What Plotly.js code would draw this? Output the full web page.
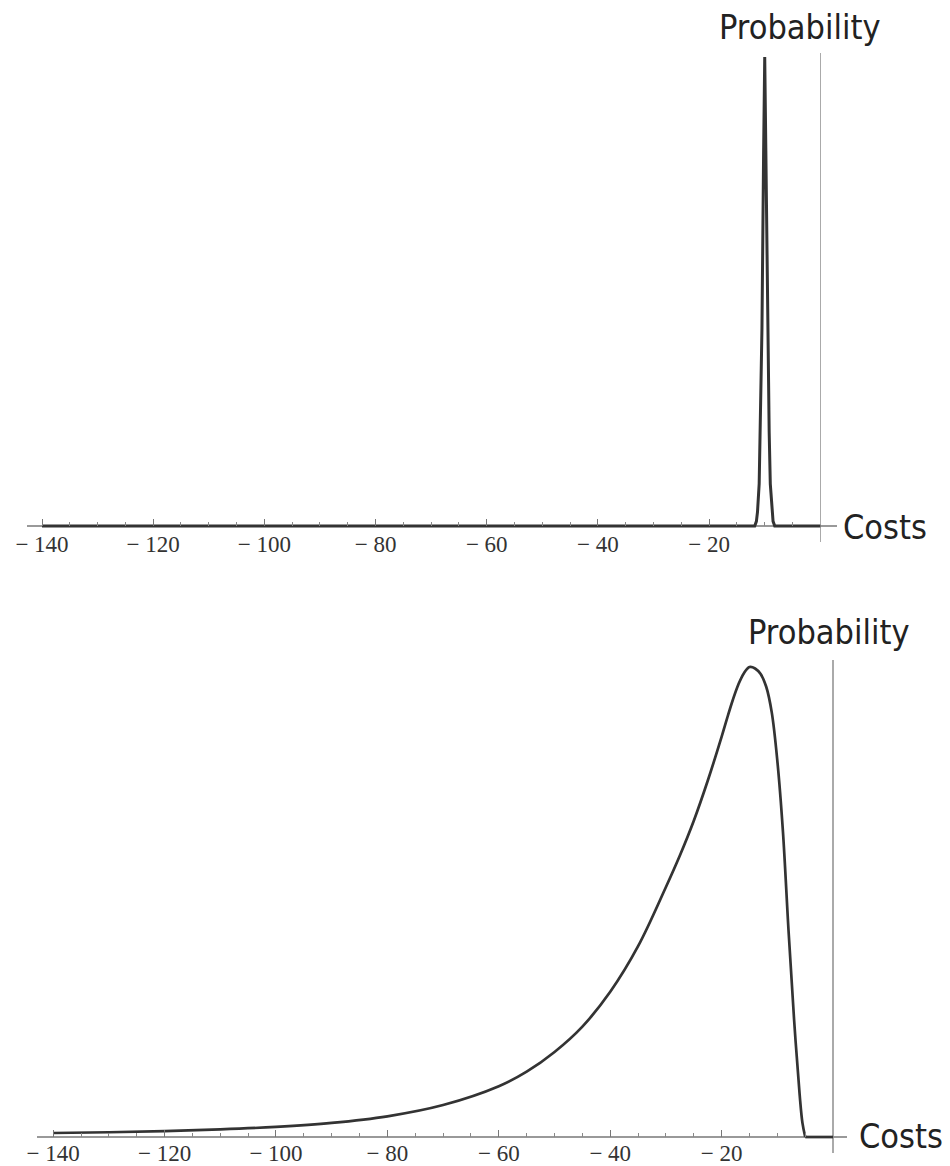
<!DOCTYPE html>
<html>
<head>
<meta charset="utf-8">
<script src="https://cdn.plot.ly/plotly-3.0.1.min.js"></script>
<style>
  html, body { margin: 0; padding: 0; background: #fff; }
  #chart { width: 950px; height: 1166px; }
</style>
</head>
<body>
<div id="chart"></div>
<script>
// ---- Data ----
// Top panel: very narrow distribution around -10
const topCosts = [-140, -11.8, -11.5, -11.3, -11, -10.8, -10.5, -10.2, -10, -9.8, -9.5, -9.2, -9, -8.7, -8.5, -8.2, 0];
const topProb  = [0, 0, 0.01, 0.03, 0.09, 0.2, 0.42, 0.8, 1, 0.8, 0.42, 0.2, 0.09, 0.03, 0.01, 0, 0];

// Bottom panel: wide, left-skewed distribution peaking near -15, zero from -5 to 0
const bottomCosts = [-140, -130, -120, -110, -100, -90, -80, -70, -60, -55, -50, -45, -40, -35, -30, -27.5, -25, -22.5, -20, -19, -18, -17, -16, -15, -14, -13, -12, -11, -10, -9, -8, -7, -6, -5.5, -5];
const bottomProb  = [0.0086, 0.0102, 0.0126, 0.0162, 0.0216, 0.030, 0.044, 0.068, 0.108, 0.139, 0.181, 0.235, 0.309, 0.406, 0.532, 0.599, 0.673, 0.758, 0.852, 0.892, 0.930, 0.963, 0.987, 1.0, 0.997, 0.985, 0.958, 0.903, 0.800, 0.650, 0.440, 0.250, 0.090, 0.030, 0];
const bottomFlatCosts = [-5, 0];
const bottomFlatProb  = [0, 0];

// Tick labels
const majorTicks = [-140, -120, -100, -80, -60, -40, -20];
const majorTickText = ['\u2212 140', '\u2212 120', '\u2212 100', '\u2212 80', '\u2212 60', '\u2212 40', '\u2212 20'];
const minorTicks = [];
for (let v = -140; v < 0; v += 5) { if (majorTicks.indexOf(v) < 0) minorTicks.push(v); }

const axisLabelX = 'Costs';
const axisLabelY = 'Probability';

// ---- Layout helpers ----
const W = 950, H = 1166;
const px = v => v / W;
const py = v => 1 - v / H;

const topYRange = [-0.034, 1.0085];
const botYRange = [-0.034, 1.015];
const topYDomain = [py(542), py(53)];
const botYDomain = [py(1153), py(660)];
const zeroPos = (r, d) => d[0] + (0 - r[0]) / (r[1] - r[0]) * (d[1] - d[0]);

const lineColor = '#333333';
const tickFont = { family: 'Liberation Serif, Times New Roman, serif', size: 23, color: '#333' };
const labelFont = { family: 'DejaVu Sans Condensed, DejaVu Sans, sans-serif', size: 34, color: '#222' };

function xAxis(domain, range, pos, standoff) {
  return {
    domain: domain, range: range, anchor: 'free', position: pos,
    showgrid: false, showline: false,
    zeroline: true, zerolinecolor: '#aaaaaa', zerolinewidth: 1.2,
    tickmode: 'array', tickvals: majorTicks, ticktext: majorTickText,
    ticks: 'inside', ticklen: 7, tickwidth: 1, tickcolor: '#777',
    tickfont: tickFont, ticklabelstandoff: standoff,
    minor: { tickmode: 'array', tickvals: minorTicks, ticks: 'inside', ticklen: 4, tickwidth: 1, tickcolor: '#888', showgrid: false },
    fixedrange: true
  };
}
function yAxis(domain, range, xName) {
  return {
    domain: domain, range: range, anchor: xName,
    showgrid: false, showline: false, showticklabels: false, ticks: '',
    zeroline: true, zerolinecolor: '#999999', zerolinewidth: 1.2,
    fixedrange: true
  };
}

const traces = [
  { x: topCosts, y: topProb, xaxis: 'x', yaxis: 'y', mode: 'lines',
    line: { color: lineColor, width: 3, shape: 'linear' }, hoverinfo: 'skip' },
  { x: bottomCosts, y: bottomProb, xaxis: 'x2', yaxis: 'y2', mode: 'lines',
    line: { color: lineColor, width: 2.7, shape: 'spline', smoothing: 1.0 }, hoverinfo: 'skip' },
  { x: bottomFlatCosts, y: bottomFlatProb, xaxis: 'x2', yaxis: 'y2', mode: 'lines',
    line: { color: lineColor, width: 2.7, shape: 'linear' }, hoverinfo: 'skip' }
];

const layout = {
  width: W, height: H,
  margin: { l: 0, r: 0, t: 0, b: 0 },
  paper_bgcolor: '#fff', plot_bgcolor: 'rgba(0,0,0,0)',
  showlegend: false,
  xaxis: xAxis([px(27), px(837)], [-142.7, 3.0], zeroPos(topYRange, topYDomain), 2),
  yaxis: yAxis(topYDomain, topYRange, 'x'),
  xaxis2: xAxis([px(37), px(847)], [-142.9, 2.5], zeroPos(botYRange, botYDomain), 0),
  yaxis2: yAxis(botYDomain, botYRange, 'x2'),
  annotations: [
    { text: axisLabelY, xref: 'paper', yref: 'paper', x: px(800), y: py(27), xanchor: 'center', yanchor: 'middle', showarrow: false, font: labelFont },
    { text: axisLabelX, xref: 'paper', yref: 'paper', x: px(885), y: py(527), xanchor: 'center', yanchor: 'middle', showarrow: false, font: labelFont },
    { text: axisLabelY, xref: 'paper', yref: 'paper', x: px(829), y: py(632), xanchor: 'center', yanchor: 'middle', showarrow: false, font: labelFont },
    { text: axisLabelX, xref: 'paper', yref: 'paper', x: px(901), y: py(1136), xanchor: 'center', yanchor: 'middle', showarrow: false, font: labelFont }
  ]
};

Plotly.newPlot('chart', traces, layout, { staticPlot: true, displayModeBar: false });
</script>
</body>
</html>
